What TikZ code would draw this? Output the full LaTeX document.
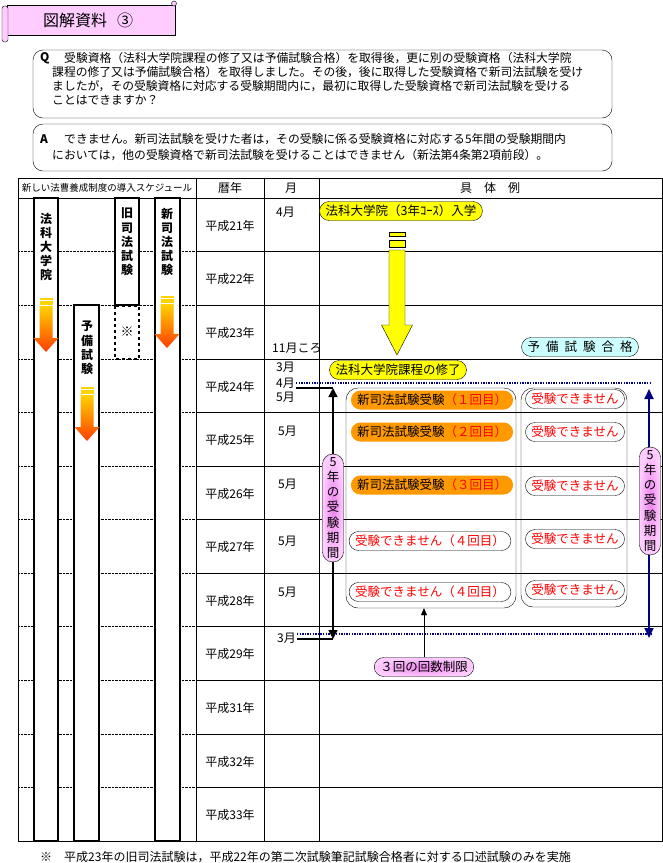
\documentclass[tikz,border=0pt]{standalone}
\usepackage{fontspec}
\setmainfont{Noto Sans CJK JP}
\usetikzlibrary{arrows.meta, positioning, shapes.misc}

\definecolor{scrollpink}{RGB}{255,204,255}
\definecolor{pillyellow}{RGB}{255,255,0}
\definecolor{pillcyan}{RGB}{204,255,255}
\definecolor{pillorange}{RGB}{255,153,0}
\definecolor{pinklight}{RGB}{255,205,255}
\definecolor{pinkdeep}{RGB}{235,130,235}
\definecolor{termnavy}{RGB}{0,0,128}
\definecolor{arrowtop}{RGB}{255,210,0}
\definecolor{arrowbot}{RGB}{255,60,0}

\newcommand{\ptsize}[1]{\fontsize{#1}{#1}\selectfont}
% orange down arrow in a column: x, top of bars, tip
\newcommand{\gradarrow}[3]{%
  \fill[arrowtop] ({#1-6.5},{#2}) rectangle ({#1+6.5},{#2+1.5});
  \fill[arrowtop] ({#1-6.5},{#2+3}) rectangle ({#1+6.5},{#2+6.5});
  \shade[top color=arrowtop, bottom color=arrowbot]
    ({#1-6.5},{#2+8}) -- ({#1+6.5},{#2+8}) -- ({#1+6.5},{#3-14}) -- ({#1+12.5},{#3-14})
    -- ({#1},{#3}) -- ({#1-12.5},{#3-14}) -- ({#1-6.5},{#3-14}) -- cycle;
}

\tikzset{
  textline/.style={anchor=west, inner sep=0pt, font=\ptsize{11.8}},
  headlbl/.style={inner sep=0pt, font=\ptsize{12}},
  yearlbl/.style={inner sep=1pt, font=\ptsize{12}},
  monthlbl/.style={anchor=west, inner sep=1pt, font=\ptsize{12}},
  collbl/.style={align=center, inner sep=0pt, font=\fontsize{12}{14.2}\selectfont\bfseries},
  colbox/.style={draw, fill=white, line width=1.6pt},
  pill/.style={rounded rectangle, inner xsep=4pt, inner ysep=1pt, minimum height=19pt, font=\ptsize{12.5}},
  yellowpill/.style={pill, draw, fill=pillyellow},
  cyanpill/.style={pill, draw, fill=pillcyan},
  orangepill/.style={pill, fill=pillorange},
  redpill/.style={pill, draw, fill=white, text=red},
  pinkpill/.style={pill, draw, inner color=pinkdeep, outer color=pinklight},
  pinkbar/.style={draw, rounded corners=10pt, inner color=pinkdeep, outer color=pinklight,
    align=center, minimum width=21pt, inner xsep=0pt, inner ysep=3pt, font=\fontsize{12.5}{15.3}\selectfont},
  groupbox/.style={draw, rounded corners=12pt},
  bracket/.style={line width=1.6pt},
  bluedots/.style={termnavy, line width=1.3pt, dash pattern=on 1.3pt off 1.3pt},
}

\begin{document}
\begin{tikzpicture}[x=1pt, y=-1pt]
  \useasboundingbox (0,0) rectangle (663,863);

  % title scroll
  \filldraw[fill=scrollpink] (7,5) rectangle (175,35);
  \filldraw[fill=scrollpink, rounded corners=2.5pt] (2,6) rectangle (8,42);
  \filldraw[fill=scrollpink] (174,3.5) circle (2.5pt);
  \node[anchor=west, inner sep=0pt, font=\ptsize{16}] (title) at (43,20) {図解資料\hspace{10pt}③};

  % question
  \draw[rounded corners=10pt] (33,50) rectangle (612,118);
  \node[textline, font=\ptsize{11.8}\bfseries] (qmark) at (40,58) {Q};
  \node[textline] (q1) at (64,58) {受験資格（法科大学院課程の修了又は予備試験合格）を取得後，更に別の受験資格（法科大学院};
  \node[textline] (q2) at (52,72) {課程の修了又は予備試験合格）を取得しました。その後，後に取得した受験資格で新司法試験を受け};
  \node[textline] (q3) at (52,86) {ましたが，その受験資格に対応する受験期間内に，最初に取得した受験資格で新司法試験を受ける};
  \node[textline] (q4) at (52,100) {ことはできますか？};

  % answer
  \draw[rounded corners=10pt] (33,124) rectangle (612,171);
  \node[textline, font=\ptsize{11.8}\bfseries] (amark) at (40,139) {A};
  \node[textline] (a1) at (64,139) {できません。新司法試験を受けた者は，その受験に係る受験資格に対応する5年間の受験期間内};
  \node[textline] (a2) at (52,155) {においては，他の受験資格で新司法試験を受けることはできません（新法第4条第2項前段）。};

  % table frame
  \draw (18,178) rectangle (662,841);
  \draw (18,198) -- (662,198);
  \foreach \x in {196,264,319}
    \draw (\x,178) -- (\x,841);
  \node[inner sep=0pt, font=\ptsize{9.5}] (schedhead) at (107,188) {新しい法曹養成制度の導入スケジュール};
  \node[headlbl] (yearhead) at (230,188) {暦年};
  \node[headlbl] (monthhead) at (291,188) {月};
  \node[headlbl] (casehead) at (490,188) {具　体　例};

  % rows
  \foreach \i in {1,...,11}{
    \draw ({196},{198+53.58*\i}) -- ({662},{198+53.58*\i});
    \draw[densely dotted] ({18},{198+53.58*\i}) -- ({196},{198+53.58*\i});
  }
  \foreach \yr [count=\i] in {21,22,23,24,25,26,27,28,29,31,32,33}
    \node[yearlbl] (yr\i) at ({230},{198+53.58*(\i-0.5)+1}) {平成{\yr}年};

  % columns of the schedule
  \draw[colbox] (34,198) rectangle (58,841);
  \draw[colbox] (74,305) rectangle (99,841);
  \draw[colbox] (115,198) rectangle (139,305);
  \draw[colbox, dashed, line width=1.4pt] (115,306) rectangle (139,359);
  \draw[colbox] (155,198) rectangle (180,841);
  \node[collbl] (lawschool) at (46,247) {法\\科\\大\\学\\院};
  \node[collbl] (prelim) at (87,348) {予\\備\\試\\験};
  \node[collbl] (oldbar) at (127,242) {旧\\司\\法\\試\\験};
  \node[collbl] (newbar) at (167,242) {新\\司\\法\\試\\験};
  \node[inner sep=0pt, font=\ptsize{13}\bfseries] (oldnote) at (127,332) {※};
  \gradarrow{46}{298}{352}
  \gradarrow{87}{387}{441}
  \gradarrow{167}{296}{348}

  % months
  \node[monthlbl] (m1) at (275,212) {4月};
  \node[monthlbl] (m3) at (271,348) {11月ころ};
  \node[monthlbl] (m4a) at (275,367) {3月};
  \node[monthlbl] (m4b) at (275,383) {4月};
  \node[monthlbl] (m4c) at (275,397) {5月};
  \foreach \i/\y in {5/431, 6/484, 7/541, 8/592}
    \node[monthlbl] (m\i) at (277,\y) {5月};
  \node[monthlbl] (m9) at (276,638) {3月};

  % law school path
  \node[yellowpill] (enroll) at (401,211) {法科大学院（3年ｺｰｽ）入学};
  \filldraw[fill=pillyellow] (389,232) rectangle (405,236);
  \filldraw[fill=pillyellow] (389,240) rectangle (405,247);
  \filldraw[fill=pillyellow] (389,250) -- (405,250) -- (405,325) -- (412.5,325)
    -- (397,355) -- (381.5,325) -- (389,325) -- cycle;
  \node[yellowpill] (grad) at (398,370) {法科大学院課程の修了};
  \node[cyanpill] (prelimpass) at (580,347) {予\hspace{6pt}備\hspace{6pt}試\hspace{6pt}験\hspace{6pt}合\hspace{6pt}格};

  % examination period
  \coordinate (rightend) at (652,0);
  \draw[bluedots] (m4b.east) -- (m4b.east -| rightend);
  \draw[bluedots] ([yshift=4pt]m9.east) -- ([yshift=4pt]m9.east -| rightend);
  \coordinate (termtop) at (333,388);
  \coordinate (termbot) at (333,639);
  \draw[bracket] (m4b.east |- termtop) -- (termtop);
  \draw[bracket] (m9.east |- termbot) -- (termbot);
  \draw[bracket, {Triangle[length=9pt, width=9pt]}-{Triangle[length=9pt, width=9pt]}] (termtop) -- (termbot);
  \node[pinkbar] (termleft) at (333,508) {5\\年\\の\\受\\験\\期\\間};
  \draw[termnavy, line width=1.8pt, {Triangle[length=10pt, width=9pt]}-{Triangle[length=10pt, width=9pt]}] (649,389) -- (649,638);
  \node[pinkbar] (termright) at (650,501) {5\\年\\の\\受\\験\\期\\間};

  % attempts
  \node[groupbox, minimum width=170pt, minimum height=220pt] (tried) at (431,498) {};
  \node[groupbox, minimum width=106pt, minimum height=219pt] (barred) at (574,497.5) {};
  \node[orangepill] (try1) at (432,400) {新司法試験受験\textcolor{red}{（１回目）}};
  \node[orangepill] (try2) at (432,432) {新司法試験受験\textcolor{red}{（２回目）}};
  \node[orangepill] (try3) at (432,485) {新司法試験受験\textcolor{red}{（３回目）}};
  \node[redpill] (try4) at (430,541) {受験できません（４回目）};
  \node[redpill] (try5) at (430,592) {受験できません（４回目）};
  \foreach \i/\y in {1/399, 2/432, 3/486, 4/539, 5/590}
    \node[redpill] (no\i) at (575,\y) {受験できません};

  % limit of three attempts
  \node[pinkpill] (limit) at (424,667) {３回の回数制限};
  \draw[-{Triangle[length=7pt, width=6pt]}] (limit.north) -- (limit.north |- tried.south);

  % note
  \node[anchor=west, inner sep=0pt, font=\ptsize{12}] (footnote) at (40,857) {※　平成23年の旧司法試験は，平成22年の第二次試験筆記試験合格者に対する口述試験のみを実施};
\end{tikzpicture}
\end{document}
